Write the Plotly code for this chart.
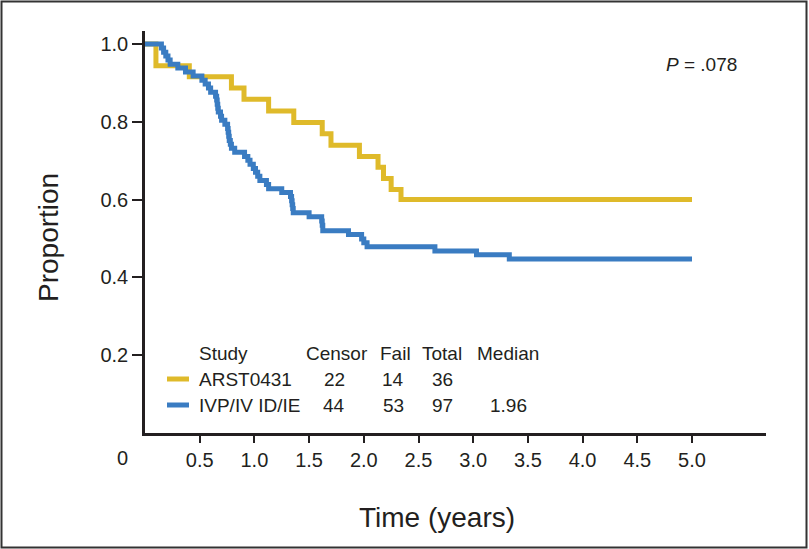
import plotly.graph_objects as go

# ---- data ----
arst_t = [0, 0.10, 0.405, 0.79, 0.905, 1.13, 1.36, 1.62, 1.70, 1.96, 2.13, 2.18, 2.25, 2.34, 5.0]
arst_s = [1.0, 0.944, 0.916, 0.887, 0.858, 0.828, 0.798, 0.769, 0.740, 0.711, 0.683, 0.654, 0.626, 0.600, 0.600]

ivp_t = [0, 0.15, 0.17, 0.19, 0.21, 0.23, 0.30, 0.37, 0.44, 0.52, 0.55, 0.58, 0.60, 0.645, 0.655,
         0.66, 0.665, 0.67, 0.69, 0.70, 0.73, 0.755, 0.76, 0.765, 0.77, 0.78, 0.79, 0.82, 0.91,
         0.94, 0.96, 0.99, 1.01, 1.03, 1.05, 1.11, 1.13, 1.25, 1.33, 1.34, 1.345, 1.35, 1.355,
         1.50, 1.615, 1.62, 1.625, 1.86, 1.98, 2.00, 2.03, 2.65, 3.03, 3.33, 5.0]
ivp_s = [1.0, 0.990, 0.979, 0.969, 0.959, 0.948, 0.938, 0.928, 0.918, 0.907, 0.897, 0.887, 0.876,
         0.866, 0.856, 0.845, 0.835, 0.825, 0.814, 0.804, 0.794, 0.783, 0.773, 0.763, 0.752, 0.742,
         0.732, 0.722, 0.711, 0.701, 0.691, 0.680, 0.670, 0.660, 0.649, 0.639, 0.628, 0.618, 0.608,
         0.597, 0.587, 0.577, 0.566, 0.556, 0.545, 0.534, 0.520, 0.510, 0.499, 0.489, 0.479, 0.468,
         0.458, 0.447, 0.447]

studies = ["ARST0431", "IVP/IV ID/IE"]
censor = [22, 44]
fail = [14, 53]
total = [36, 97]
median = ["", "1.96"]
p_text = "<i>P</i> = .078"

x_ticks = [0.5, 1.0, 1.5, 2.0, 2.5, 3.0, 3.5, 4.0, 4.5, 5.0]
y_ticks = [0.2, 0.4, 0.6, 0.8, 1.0]

YELLOW = "#dfba2a"
BLUE = "#3a7cc2"
INK = "#231f20"
FONT = "Liberation Sans, Arial, Helvetica, sans-serif"

# ---- layout geometry (pixels) ----
W, H = 809, 549
L, R, T, B = 145, 766, 31, 433


def px(x):
    return (x - L) / (R - L)


def py(y):
    return (B - y) / (B - T)


fig = go.Figure()
fig.add_trace(go.Scatter(x=arst_t, y=arst_s, mode="lines", line=dict(color=YELLOW, width=5, shape="hv"),
                         name=studies[0], showlegend=False))
fig.add_trace(go.Scatter(x=ivp_t, y=ivp_s, mode="lines", line=dict(color=BLUE, width=5, shape="hv"),
                         name=studies[1], showlegend=False))

ann = []
# axis titles
ann.append(dict(x=px(437), y=py(517), xref="paper", yref="paper", text="Time (years)", showarrow=False,
                font=dict(size=28, color=INK, family=FONT), xanchor="center", yanchor="middle"))
ann.append(dict(x=px(48), y=py(238), xref="paper", yref="paper", text="Proportion", showarrow=False,
                textangle=-90, font=dict(size=28, color=INK, family=FONT), xanchor="center", yanchor="middle"))
# origin label
ann.append(dict(x=px(122), y=py(458), xref="paper", yref="paper", text="0", showarrow=False,
                font=dict(size=20, color=INK, family=FONT), xanchor="center", yanchor="middle"))
# P value
ann.append(dict(x=px(664), y=py(65), xref="paper", yref="paper", text=p_text, showarrow=False,
                font=dict(size=19, color=INK, family=FONT), xanchor="left", yanchor="middle"))

# legend table
hdr_y = 353
row_y = [379, 405]
for txt, xx in [("Study", 197), ("Censor", 304), ("Fail", 378), ("Total", 420), ("Median", 475)]:
    ann.append(dict(x=px(xx), y=py(hdr_y), xref="paper", yref="paper", text=txt, showarrow=False,
                    font=dict(size=19, color=INK, family=FONT), xanchor="left", yanchor="middle"))
shapes = []
colors = [YELLOW, BLUE]
for i in range(2):
    yy = row_y[i]
    ann.append(dict(x=px(197), y=py(yy), xref="paper", yref="paper", text=studies[i], showarrow=False,
                    font=dict(size=19, color=INK, family=FONT), xanchor="left", yanchor="middle"))
    for val, xx in [(censor[i], 334), (fail[i], 393), (total[i], 442), (median[i], 508)]:
        if val == "":
            continue
        ann.append(dict(x=px(xx), y=py(yy), xref="paper", yref="paper", text=str(val), showarrow=False,
                        font=dict(size=19, color=INK, family=FONT), xanchor="center", yanchor="middle"))
    shapes.append(dict(type="line", xref="paper", yref="paper", x0=px(167), x1=px(189), y0=py(yy), y1=py(yy),
                       line=dict(color=colors[i], width=5)))

# outer frame
shapes.append(dict(type="rect", xref="paper", yref="paper", x0=px(1.5), x1=px(806.5), y0=py(547.5), y1=py(1.5),
                   line=dict(color="#333333", width=2), fillcolor="rgba(0,0,0,0)", layer="above"))

fig.update_layout(
    width=W, height=H,
    margin=dict(l=L, r=W - R, t=T, b=H - B, pad=0),
    paper_bgcolor="white", plot_bgcolor="white",
    font=dict(family=FONT, color=INK),
    annotations=ann, shapes=shapes,
    xaxis=dict(range=[0, (R - L) / 109.4], tickvals=x_ticks, ticktext=[f"{v:.1f}" for v in x_ticks],
               showgrid=False, zeroline=False, showline=True, linecolor="#231f20", linewidth=2.5,
               ticks="outside", ticklen=7, tickwidth=1.5, tickcolor="#231f20",
               tickfont=dict(size=20, color=INK, family=FONT), ticklabelstandoff=0),
    yaxis=dict(range=[0, (B - T) / 389.0], tickvals=y_ticks, ticktext=[f"{v:.1f}" for v in y_ticks],
               showgrid=False, zeroline=False, showline=True, linecolor="#231f20", linewidth=2.5,
               ticks="outside", ticklen=10, tickwidth=1.5, tickcolor="#231f20",
               tickfont=dict(size=20, color=INK, family=FONT), ticklabelstandoff=0),
)

fig.write_html("out.html", config={"displayModeBar": False},
               post_script="document.body.style.margin='0px';document.body.style.overflow='hidden';")
